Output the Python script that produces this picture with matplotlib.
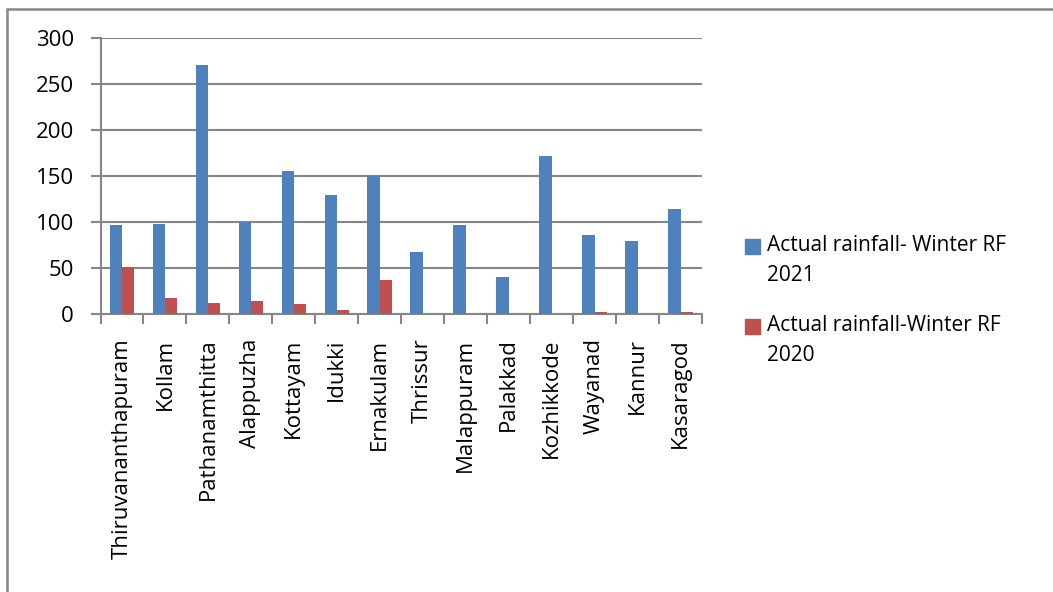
import matplotlib.pyplot as plt
from matplotlib.patches import Rectangle
import numpy as np

districts = ['Thiruvananthapuram', 'Kollam', 'Pathanamthitta', 'Alappuzha', 'Kottayam',
             'Idukki', 'Ernakulam', 'Thrissur', 'Malappuram', 'Palakkad', 'Kozhikkode',
             'Wayanad', 'Kannur', 'Kasaragod']
rf_2021 = [96, 98, 271, 100, 155, 129, 150, 67, 96, 40, 171, 86, 79, 114]
rf_2020 = [51, 17, 11, 14, 10, 3.5, 36, 0, 0, 0, 0, 1.5, 0, 1.5]
yticks = [0, 50, 100, 150, 200, 250, 300]

blue = '#4F81BD'
red = '#C0504D'
grey = '#868686'
plt.rcParams['font.family'] = ['Open Sans', 'DejaVu Sans']

W, H = 1053, 592
fig = plt.figure(figsize=(W / 100, H / 100), dpi=100)
ax = fig.add_axes([100.5 / W, 1 - 313.5 / H, 601.5 / W, 275.5 / H])

x = np.arange(len(districts))
bw = 0.286
ax.bar(x - bw / 2, rf_2021, bw, color=blue, zorder=3)
ax.bar(x + bw / 2, rf_2020, bw, color=red, zorder=3)

ax.set_xlim(-0.5, len(districts) - 0.5)
ax.set_ylim(0, 300)
ax.set_yticks(yticks)
ax.set_xticks(x)
ax.set_xticklabels(districts, rotation=90, fontsize=16)
ax.set_xticks(np.arange(-0.5, len(districts)), minor=True)
ax.tick_params(axis='x', which='major', length=0, pad=18)
ax.tick_params(axis='x', which='minor', length=7, width=1.5, color=grey)
ax.tick_params(axis='y', length=7, width=1.5, color=grey, labelsize=16, pad=12)
ax.yaxis.grid(True, color=grey, linewidth=1.5, zorder=0)

for s in ['top', 'right']:
    ax.spines[s].set_visible(False)
for s in ['left', 'bottom']:
    ax.spines[s].set_color(grey)
    ax.spines[s].set_linewidth(1.5)

# legend with the swatch aligned to the first line of text
leg = [(blue, 'Actual rainfall- Winter RF\n2021', 239), (red, 'Actual rainfall-Winter RF\n2020', 319)]
for col, lab, top in leg:
    fig.add_artist(Rectangle((745 / W, 1 - (top + 15) / H), 15 / W, 15 / H,
                             transform=fig.transFigure, color=col))
    fig.text(767 / W, 1 - (top - 4) / H, lab, fontsize=15, va='top', ha='left',
             linespacing=1.55)

# outer chart border
fig.add_artist(Rectangle((7 / W, -0.05), 1.1, 1 - 9 / H + 0.05, transform=fig.transFigure,
                         fill=False, edgecolor=grey, linewidth=1.8))

fig.savefig('out.png', dpi=100)
